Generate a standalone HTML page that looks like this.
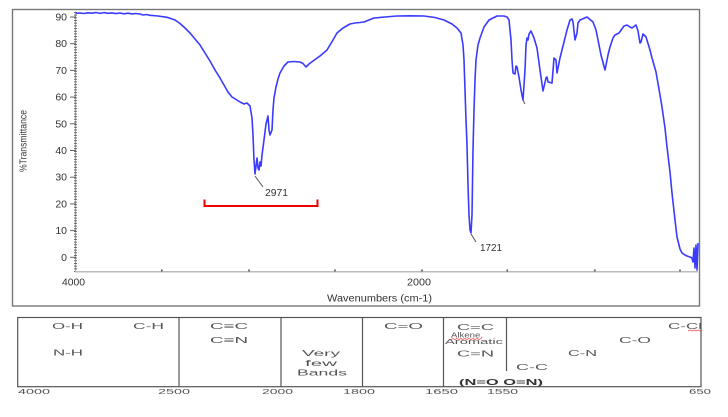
<!DOCTYPE html>
<html>
<head>
<meta charset="utf-8">
<style>
  html,body{margin:0;padding:0;background:#fff;}
  svg{display:block;}
  text{font-family:"Liberation Sans",sans-serif;}
  .tb{font-family:"DejaVu Sans","Liberation Sans",sans-serif;fill:#555;}
</style>
</head>
<body>
<svg width="728" height="417" viewBox="0 0 728 417" xmlns="http://www.w3.org/2000/svg">
  <rect x="0" y="0" width="728" height="417" fill="#fff"/>

  <!-- Chart frame -->
  <rect x="12.5" y="9.5" width="687" height="296.5" fill="none" stroke="#777" stroke-width="1.4"/>

  <!-- Y axis -->
  <line x1="75.5" y1="11.5" x2="75.5" y2="272" stroke="#999" stroke-width="0.8"/>
  <line x1="75.5" y1="12" x2="75.5" y2="272" stroke="#666" stroke-width="3" stroke-dasharray="1 1.67"/>
  <g stroke="#666" stroke-width="1">
    <line x1="70" y1="17" x2="76" y2="17"/>
    <line x1="70" y1="43.7" x2="76" y2="43.7"/>
    <line x1="70" y1="70.4" x2="76" y2="70.4"/>
    <line x1="70" y1="97.1" x2="76" y2="97.1"/>
    <line x1="70" y1="123.8" x2="76" y2="123.8"/>
    <line x1="70" y1="150.5" x2="76" y2="150.5"/>
    <line x1="70" y1="177.2" x2="76" y2="177.2"/>
    <line x1="70" y1="203.9" x2="76" y2="203.9"/>
    <line x1="70" y1="230.6" x2="76" y2="230.6"/>
    <line x1="70" y1="257.3" x2="76" y2="257.3"/>
  </g>
  <g font-size="10.5" fill="#333" text-anchor="end">
    <text x="67" y="20.5">90</text>
    <text x="67" y="47.2">80</text>
    <text x="67" y="73.9">70</text>
    <text x="67" y="100.6">60</text>
    <text x="67" y="127.3">50</text>
    <text x="67" y="154">40</text>
    <text x="67" y="180.7">30</text>
    <text x="67" y="207.4">20</text>
    <text x="67" y="234.1">10</text>
    <text x="67" y="260.8">0</text>
  </g>
  <text transform="translate(26.5,141) rotate(-90)" font-size="10" fill="#333" text-anchor="middle" textLength="62" lengthAdjust="spacingAndGlyphs">%Transmittance</text>

  <!-- X axis -->
  <line x1="75" y1="271.7" x2="698" y2="271.7" stroke="#bbb" stroke-width="1.5"/>
  <g fill="#555">
    <rect x="161" y="269.5" width="1.6" height="2"/>
    <rect x="248.2" y="269.5" width="1.6" height="2"/>
    <rect x="334.2" y="269.5" width="1.6" height="2"/>
    <rect x="421.2" y="269.5" width="1.6" height="2"/>
    <rect x="506.5" y="269.5" width="1.6" height="2"/>
    <rect x="594" y="269.5" width="1.6" height="2"/>
    <rect x="679.2" y="269.5" width="1.6" height="2"/>
  </g>
  <text x="62" y="285.5" font-size="10.5" fill="#333" textLength="23" lengthAdjust="spacingAndGlyphs">4000</text>
  <text x="407" y="285.5" font-size="10.5" fill="#333" textLength="24" lengthAdjust="spacingAndGlyphs">2000</text>
  <text x="327" y="301.5" font-size="10" fill="#333" textLength="105" lengthAdjust="spacingAndGlyphs">Wavenumbers (cm-1)</text>

  <!-- Spectrum -->
  <path fill="none" stroke="#3b3bff" stroke-width="1.6" stroke-linejoin="round" d="
M76,13.3 L80,13 L84,13.5 L88,12.8 L92,13.2 L96,12.5 L100,13.4 L104,12.6 L108,13.3 L112,12.9 L116,13.6 L120,13 L124,13.8 L128,13.2 L132,13.9 L136,13.5 L140,14 L143,15 L146,14.5 L150,15.3 L158,16 L167,17.3 L175,20 L180,23.5 L185,28 L190,33 L195,39 L200,45 L205,53 L210,61 L215,70 L220,78 L224,85 L228,92 L232,97 L236,99.5 L240,102 L244,104 L247,103 L250,106 L252,118 L253,135 L254,160 L255,174 L256,166 L257,158 L258,168 L259,170 L260,162 L261,166 L262,155 L264,140 L266,124 L268,116 L269,130 L270,135 L272,130 L273,110 L274,98 L276,87 L278,79 L280,73 L284,66 L288,62 L294,61.5 L300,62 L303,63.5 L306,67 L309,64 L313,61 L320,56 L327,50 L333,40 L337,33 L343,28 L350,24 L355,23 L360,22.5 L364,22 L374,18 L385,17 L397,16 L410,15.8 L424,16 L435,17.5 L444,20 L452,24 L457,28 L461,33 L463,45 L464,60 L465,90 L466,120 L467,145 L468,185 L469,215 L470,230 L471,233 L472,215 L473,150 L474,110 L475,80 L476,60 L478,45 L480,38 L484,27 L489,20 L497,16 L504,16 L507,17 L509,20 L511,40 L512,60 L513,73 L515,74 L516,66 L517,67 L519,77 L521,90 L523,100 L524,85 L525,70 L526,45 L527,38 L528,40 L529,34 L531,31 L534,38 L537,48 L540,70 L543,91 L546,78 L547,77 L548,82 L552,83 L554,58 L556,60 L557,73 L560,58 L564,42 L567,30 L570,20 L572,19 L573,22 L575,40 L577,33 L578,23 L580,20 L587,17 L593,22 L596,30 L598,40 L601,55 L605,70 L608,55 L610,47 L613,38 L615,35 L619,33 L624,26 L627,25 L630,27 L632,28 L636,25 L638,31 L640,43 L641,42 L643,34 L646,37 L650,50 L652,58 L656,72 L660,95 L662,107 L665,128 L667,147 L670,172 L672,193 L675,220 L677,237 L680,249 L682,253 L685,255 L687,256 L690,257 L692,258 L693,262 L694,248 L695,268 L696,245 L697,270 L698,243"/>

  <!-- Peak annotations -->
  <g stroke="#555" stroke-width="1" fill="none">
    <line x1="255" y1="176" x2="263" y2="187"/>
    <line x1="471" y1="234" x2="476" y2="242"/>
    <line x1="523" y1="100" x2="525" y2="104"/>
  </g>
  <text x="265" y="196" font-size="10" fill="#333" textLength="23" lengthAdjust="spacingAndGlyphs">2971</text>
  <text x="480" y="251" font-size="10" fill="#333" textLength="22" lengthAdjust="spacingAndGlyphs">1721</text>

  <!-- Red bracket -->
  <path d="M204.5,199.5 V206 H317.5 V199.5" fill="none" stroke="#e00" stroke-width="2"/>

  <!-- Correlation table -->
  <rect x="17.7" y="317.5" width="683.3" height="69.2" fill="none" stroke="#555" stroke-width="1.2"/>
  <g stroke="#555" stroke-width="1.2">
    <line x1="179" y1="317.5" x2="179" y2="386.7"/>
    <line x1="281" y1="317.5" x2="281" y2="386.7"/>
    <line x1="362.5" y1="317.5" x2="362.5" y2="386.7"/>
    <line x1="443.5" y1="317.5" x2="443.5" y2="386.7"/>
    <line x1="506.5" y1="317.5" x2="506.5" y2="371"/>
  </g>

  <g class="tb" font-size="8.5">
    <text x="52" y="329" textLength="31" lengthAdjust="spacingAndGlyphs">O-H</text>
    <text x="133" y="329" textLength="31" lengthAdjust="spacingAndGlyphs">C-H</text>
    <text x="53" y="355.7" textLength="30" lengthAdjust="spacingAndGlyphs">N-H</text>
    <text x="210" y="329" textLength="38" lengthAdjust="spacingAndGlyphs">C≡C</text>
    <text x="210" y="343" textLength="38" lengthAdjust="spacingAndGlyphs">C≡N</text>
    <text x="302" y="356" textLength="38" lengthAdjust="spacingAndGlyphs">Very</text>
    <text x="305" y="366" textLength="32" lengthAdjust="spacingAndGlyphs">few</text>
    <text x="297" y="375.5" textLength="50" lengthAdjust="spacingAndGlyphs">Bands</text>
    <text x="384" y="329" textLength="39" lengthAdjust="spacingAndGlyphs">C=O</text>
    <text x="457" y="330" textLength="37" lengthAdjust="spacingAndGlyphs">C=C</text>
    <text x="457" y="356.5" textLength="37" lengthAdjust="spacingAndGlyphs">C=N</text>
    <text x="516" y="370" textLength="32" lengthAdjust="spacingAndGlyphs">C-C</text>
    <text x="568" y="356" textLength="29" lengthAdjust="spacingAndGlyphs">C-N</text>
    <text x="619" y="343" textLength="32" lengthAdjust="spacingAndGlyphs">C-O</text>
    <text x="668" y="329" textLength="34" lengthAdjust="spacingAndGlyphs">C-Cl</text>
    <text x="459" y="385" font-weight="bold" fill="#333" textLength="84" lengthAdjust="spacingAndGlyphs">(N=O O=N)</text>
  </g>
  <g class="tb" font-size="7">
    <text x="451" y="337.5" textLength="32" lengthAdjust="spacingAndGlyphs">Alkene,</text>
    <text x="445" y="343.8" textLength="58" lengthAdjust="spacingAndGlyphs">Aromatic</text>
  </g>
  <!-- red wavy underlines -->
  <path d="M451,339.5 l2,-1 l2,1 l2,-1 l2,1 l2,-1 l2,1 l2,-1 l2,1 l2,-1 l2,1 l2,-1 l2,1 l2,-1 l2,1 l2,-1" fill="none" stroke="#e44" stroke-width="0.7"/>
  <path d="M688,331 l2,-1 l2,1 l2,-1 l2,1 l2,-1 l2,1 l2,-1" fill="none" stroke="#e44" stroke-width="0.7"/>

  <g class="tb" font-size="7.5">
    <text x="18" y="394" textLength="32" lengthAdjust="spacingAndGlyphs">4000</text>
    <text x="158" y="394" textLength="32" lengthAdjust="spacingAndGlyphs">2500</text>
    <text x="262" y="394" textLength="31" lengthAdjust="spacingAndGlyphs">2000</text>
    <text x="343" y="394" textLength="32" lengthAdjust="spacingAndGlyphs">1800</text>
    <text x="425" y="394" textLength="33" lengthAdjust="spacingAndGlyphs">1650</text>
    <text x="487" y="394" textLength="31" lengthAdjust="spacingAndGlyphs">1550</text>
    <text x="689" y="394" textLength="22" lengthAdjust="spacingAndGlyphs">650</text>
  </g>
</svg>
</body>
</html>
